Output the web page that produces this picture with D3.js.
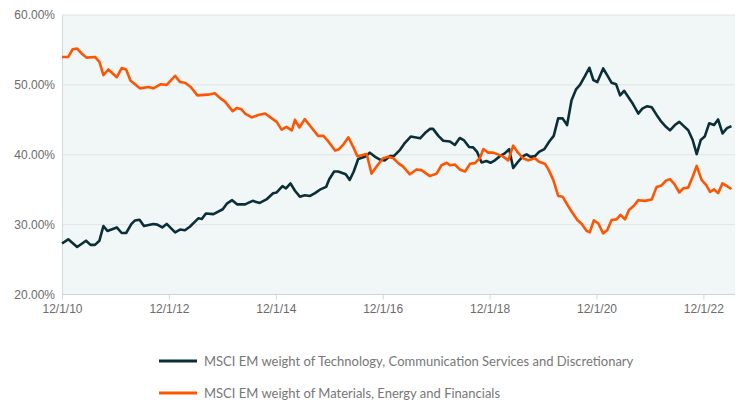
<!DOCTYPE html>
<html>
<head>
<meta charset="utf-8">
<script src="https://cdn.jsdelivr.net/npm/d3@7"></script>
<style>
  body { margin: 0; background: #fff; }
  svg { display: block; font-family: Lato, "Open Sans", sans-serif; }
</style>
</head>
<body>
<svg id="chart" width="741" height="402"></svg>
<script>
var w = 741,
	h = 402,
	margin = {top: 15, right: 6, bottom: 107.5, left: 62};

// x positions are months since 12/1/10
var xTicks = [0, 24, 48, 72, 96, 120, 144],
	xTickLabels = ['12/1/10', '12/1/12', '12/1/14', '12/1/16', '12/1/18', '12/1/20', '12/1/22'],
	yTicks = [20, 30, 40, 50, 60];

var seriesNames = [
	'MSCI EM weight of Technology, Communication Services and Discretionary',
	'MSCI EM weight of Materials, Energy and Financials'
];
var seriesColors = ['#0b2f38', '#ff5500'];

var techMonths = [0, 1.4, 3.4, 5.4, 6.4, 7.4, 8.4, 9.3, 10.2, 12.3, 13.4, 14.4, 15.6, 16.4, 17.4, 18.4,
	20.5, 21.4, 22.5, 23.5, 25.4, 26.5, 27.6, 28.7, 30.6, 31.4, 32.3, 34.0, 36.1, 37.0, 38.2, 39.3,
	41.1, 42.8, 44.4, 45.9, 47.4, 48.2, 49.5, 50.3, 51.3, 52.3, 53.4, 54.5, 55.7, 56.8, 57.9, 59.3,
	60.0, 61.1, 62.0, 63.7, 64.6, 65.5, 66.5, 68.0, 69.1, 70.3, 71.4, 72.5, 73.6, 74.5, 75.9, 77.0,
	78.3, 79.2, 80.4, 81.5, 82.6, 83.3, 84.5, 85.6, 87.1, 88.2, 89.3, 90.2, 91.4, 92.3, 93.2, 94.2,
	95.3, 96.2, 97.2, 98.3, 99.4, 100.4, 101.3, 102.4, 103.5, 104.3, 105.2, 106.2, 107.1, 108.3, 109.4, 110.4,
	111.4, 112.4, 113.4, 114.4, 115.4, 116.3, 117.4, 118.4, 119.3, 120.2, 121.5, 122.4, 123.4, 124.4, 125.3, 126.2,
	127.1, 128.2, 129.4, 130.3, 131.4, 132.4, 133.5, 134.6, 135.6, 136.5, 137.6, 138.6, 139.6, 140.6, 141.6, 142.5,
	143.4, 144.3, 145.3, 146.4, 147.3, 148.3, 149.3, 150.3];
var techValues = [27.3, 27.9, 26.8, 27.7, 27.1, 27.1, 27.7, 29.8, 29.1, 29.6, 28.8, 28.8, 30.1, 30.6, 30.7, 29.8,
	30.1, 30.0, 29.6, 30.1, 28.9, 29.3, 29.2, 29.7, 30.9, 30.8, 31.6, 31.5, 32.2, 33.0, 33.5, 32.9,
	32.9, 33.4, 33.1, 33.6, 34.5, 34.6, 35.5, 35.2, 35.9, 34.85, 34.0, 34.2, 34.1, 34.5, 35.0, 35.4,
	36.5, 37.6, 37.6, 37.2, 36.4, 37.6, 39.4, 39.7, 40.3, 39.7, 39.3, 39.2, 39.8, 39.8, 40.7, 41.7,
	42.6, 42.5, 42.35, 43.1, 43.7, 43.7, 42.7, 42.0, 41.9, 41.4, 42.4, 42.1, 41.1, 41.05, 40.4, 38.9,
	39.1, 38.85, 39.2, 39.8, 40.2, 40.8, 38.1, 39.0, 39.8, 40.05, 39.7, 39.8, 40.4, 40.8, 41.9, 42.7,
	45.2, 45.2, 44.25, 47.8, 49.35, 50.0, 51.25, 52.45, 50.7, 50.4, 52.35, 51.4, 50.3, 50.1, 48.5, 49.15,
	48.3, 47.25, 45.9, 46.6, 46.95, 46.8, 45.7, 44.7, 44.0, 43.5, 44.25, 44.7, 44.1, 43.5, 42.1, 40.1,
	42.1, 42.6, 44.5, 44.25, 45.05, 43.05, 43.8, 44.1];

var matMonths = [0, 1.4, 2.4, 3.4, 4.4, 5.5, 7.4, 8.4, 9.3, 10.4, 12.3, 13.4, 14.4, 15.4, 17.5, 19.4,
	20.5, 22.2, 23.5, 25.4, 26.5, 27.6, 28.9, 30.4, 32.8, 34.3, 35.5, 36.6, 38.3, 39.3, 40.3, 41.1,
	42.6, 44.1, 45.6, 47.1, 48.2, 49.3, 50.4, 51.6, 52.3, 53.3, 54.5, 56.0, 57.5, 58.7, 59.8, 61.3,
	62.2, 63.1, 64.3, 65.4, 66.3, 68.4, 69.5, 70.6, 72.1, 73.2, 74.4, 75.5, 76.6, 78.1, 79.6, 80.7,
	82.6, 84.1, 85.2, 86.4, 87.1, 88.2, 89.3, 90.5, 91.6, 92.7, 93.8, 94.6, 95.7, 96.8, 98.9, 100.2,
	101.3, 102.4, 103.5, 104.7, 106.2, 107.1, 108.4, 109.1, 110.3, 111.4, 112.4, 113.6, 114.6, 115.7, 116.7, 117.8,
	118.5, 119.4, 120.4, 121.5, 122.4, 123.4, 124.5, 125.4, 126.4, 127.3, 128.4, 129.4, 130.9, 132.4, 133.5, 134.6,
	135.6, 136.5, 137.5, 138.6, 139.5, 140.6, 141.6, 142.5, 143.6, 144.6, 145.5, 146.4, 147.3, 148.3, 149.3, 150.3];
var matValues = [54.0, 54.0, 55.1, 55.2, 54.5, 53.9, 54.0, 53.3, 51.4, 52.2, 51.1, 52.4, 52.2, 50.6, 49.5, 49.7,
	49.5, 50.1, 50.0, 51.3, 50.4, 50.3, 49.7, 48.5, 48.6, 48.8, 48.1, 47.6, 46.25, 46.7, 46.5, 45.9,
	45.35, 45.7, 45.9, 45.2, 44.7, 43.6, 44.0, 43.5, 45.0, 43.9, 45.1, 43.9, 42.7, 42.7, 41.9, 40.6,
	40.8, 41.4, 42.5, 41.1, 39.8, 40.1, 37.3, 38.3, 39.5, 39.7, 39.5, 38.8, 38.3, 37.2, 37.9, 37.8,
	36.95, 37.3, 38.5, 38.85, 38.5, 38.6, 37.9, 37.6, 38.7, 38.8, 39.5, 40.8, 40.3, 40.3, 39.8, 39.2,
	41.3, 40.3, 39.5, 39.2, 39.5, 39.0, 38.7, 38.05, 36.4, 34.1, 34.0, 32.7, 31.7, 30.65, 30.1, 29.1,
	28.9, 30.6, 30.2, 28.75, 29.2, 30.65, 30.75, 31.4, 30.75, 32.1, 32.7, 33.5, 33.4, 33.6, 35.4, 35.6,
	36.3, 36.5, 35.8, 34.6, 35.2, 35.3, 36.85, 38.4, 36.4, 35.7, 34.7, 35.05, 34.5, 35.9, 35.5, 35.1];

var svg = d3.select('#chart');

var x = d3.scaleLinear()
	.domain([0, 151.1])
	.range([margin.left, w - margin.right]);

var y = d3.scaleLinear()
	.domain([20, 60])
	.range([h - margin.bottom, margin.top]);

// plot background
svg.append('rect')
	.attr('x', x(0))
	.attr('y', y(60))
	.attr('width', x(151.1) - x(0))
	.attr('height', y(20) - y(60))
	.style('fill', '#f1f6f6');

// gridlines
svg.append('g')
	.selectAll('line')
	.data(yTicks)
	.enter().append('line')
	.attr('x1', x(0))
	.attr('x2', x(151.1))
	.attr('y1', function(d) { return y(d) })
	.attr('y2', function(d) { return y(d) })
	.style('stroke', function(d) { return d == 20 ? '#cfd4d4' : '#dfe5e5' })
	.style('stroke-width', 1);

// y axis
var yAxis = d3.axisLeft(y)
	.tickValues(yTicks)
	.tickSize(0)
	.tickPadding(7)
	.tickFormat(function(d) { return d.toFixed(2) + '%' });

svg.append('g')
	.attr('transform', 'translate(' + margin.left + ',0)')
	.call(yAxis)
	.call(function(g) {
		g.select('.domain').style('stroke', '#d3d8d8');
		g.selectAll('text').style('fill', '#6b6b6b').style('font-size', '12px');
	});

// x axis
var xAxis = d3.axisBottom(x)
	.tickValues(xTicks)
	.tickSize(5)
	.tickPadding(5)
	.tickFormat(function(d, i) { return xTickLabels[i] });

svg.append('g')
	.attr('transform', 'translate(0,' + y(20) + ')')
	.call(xAxis)
	.call(function(g) {
		g.select('.domain').remove();
		g.selectAll('line').style('stroke', '#d3d8d8');
		g.selectAll('text').style('fill', '#6b6b6b').style('font-size', '12px');
	});

// lines
var line = d3.line()
	.x(function(d) { return x(d[0]) })
	.y(function(d) { return y(d[1]) });

var series = [d3.zip(techMonths, techValues), d3.zip(matMonths, matValues)];

svg.append('g')
	.selectAll('path')
	.data(series)
	.enter().append('path')
	.attr('d', line)
	.style('fill', 'none')
	.style('stroke', function(d, i) { return seriesColors[i] })
	.style('stroke-width', 2.6)
	.style('stroke-linejoin', 'round');

// legend
var legend = svg.append('g')
	.selectAll('g')
	.data(seriesNames)
	.enter().append('g')
	.attr('transform', function(d, i) { return 'translate(159,' + (361 + i * 32) + ')' });

legend.append('line')
	.attr('x1', 0)
	.attr('x2', 38)
	.style('stroke', function(d, i) { return seriesColors[i] })
	.style('stroke-width', 3);

legend.append('text')
	.attr('x', 45)
	.attr('dy', '0.35em')
	.style('fill', '#777')
	.style('font-size', '13px')
	.text(function(d) { return d });
</script>
</body>
</html>
